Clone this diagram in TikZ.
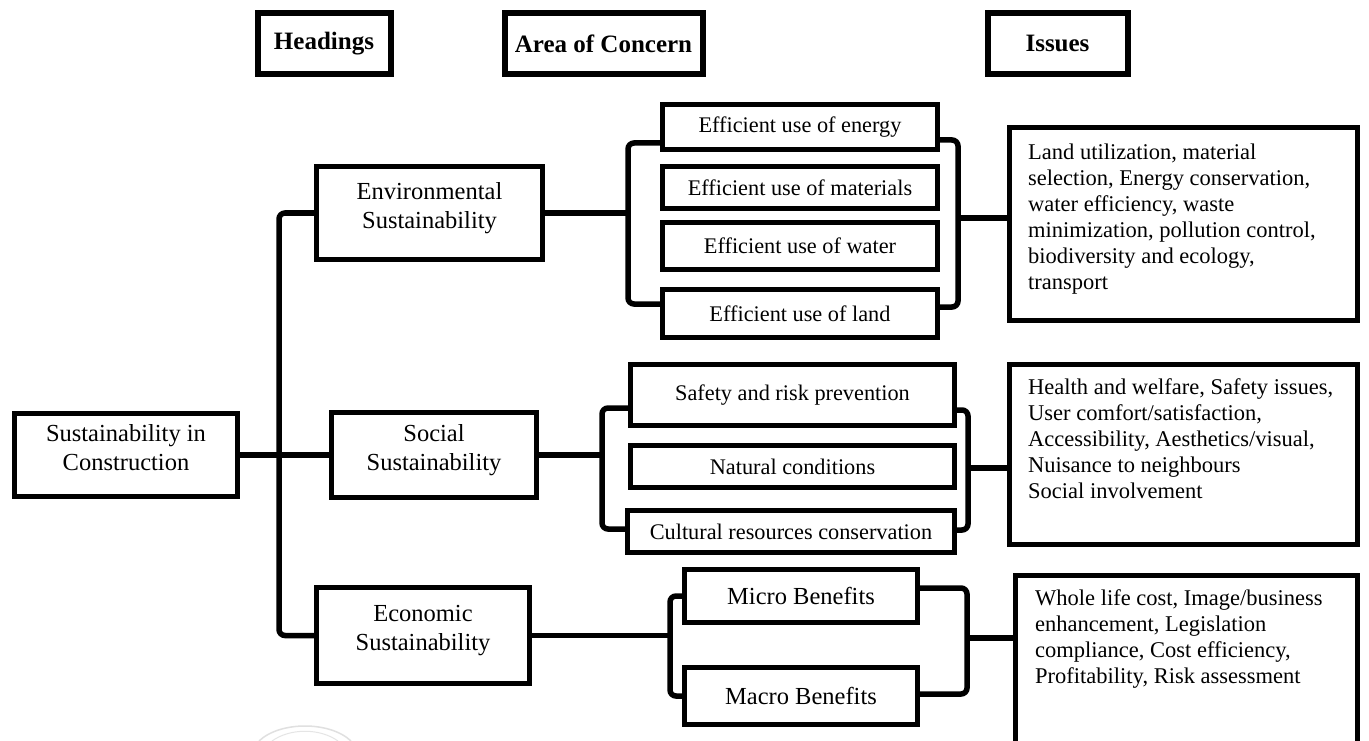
\documentclass[tikz,border=0pt]{standalone}
\usepackage{fontspec}
\setmainfont{Liberation Serif}
\usetikzlibrary{calc}
\begin{document}
\begin{tikzpicture}[x=1pt, y=-1pt,
  box/.style={draw=black, line width=5pt, inner sep=0pt, align=center},
  headbox/.style={box, line width=6pt, font=\fontsize{25}{29}\selectfont\bfseries},
  mainbox/.style={box, text depth=15pt, font=\fontsize{24.5}{28.5}\selectfont},
  areabox/.style={box, font=\fontsize{22.3}{26}\selectfont},
  benefitbox/.style={box, font=\fontsize{24.5}{28.5}\selectfont},
  issuetext/.style={inner sep=0pt, anchor=north west, align=left, font=\fontsize{22.5}{26}\selectfont},
  conn/.style={line width=5.5pt, rounded corners=6pt}]
\fill[white] (0,0) rectangle (1369,741);
\useasboundingbox (0,0) rectangle (1369,741);

% column headers
\node[headbox, minimum width=133, minimum height=61] (hHead) at (324,43.5) {Headings};
\node[headbox, minimum width=198, minimum height=61] (hArea) at (603.5,43.5) {Area of Concern};
\node[headbox, minimum width=140, minimum height=61] (hIss) at (1057.5,43.5) {Issues};

% root and headings
\node[mainbox, minimum width=223, minimum height=83] (root) at (126,455) {Sustainability in\\Construction};
\node[mainbox, minimum width=226, minimum height=93] (env) at (429.5,213) {Environmental\\Sustainability};
\node[mainbox, minimum width=205, minimum height=85] (soc) at (434,455) {Social\\Sustainability};
\node[mainbox, minimum width=213, minimum height=96] (eco) at (423,635.5) {Economic\\Sustainability};

% areas of concern: environmental
\node[areabox, minimum width=275, minimum height=45] (energy) at (800,127) {Efficient use of energy};
\node[areabox, minimum width=275, minimum height=42] (mat) at (800,187.5) {Efficient use of materials};
\node[areabox, minimum width=275, minimum height=47] (water) at (800,246) {Efficient use of water};
\node[areabox, minimum width=275, minimum height=48] (land) at (800,313.5) {Efficient use of land};

% areas of concern: social
\node[areabox, minimum width=324, minimum height=61] (safety) at (792.5,395) {Safety and risk prevention};
\node[areabox, minimum width=324, minimum height=42] (natural) at (792.5,466.5) {Natural conditions};
\node[areabox, minimum width=327, minimum height=42] (cultural) at (791,531.5) {Cultural resources conservation};

% areas of concern: economic
\node[benefitbox, minimum width=233, minimum height=53] (micro) at (801,596) {Micro Benefits};
\node[benefitbox, minimum width=233, minimum height=57] (macro) at (801,696) {Macro Benefits};

% issue boxes
\node[box, minimum width=348, minimum height=193] (iss1) at (1183.5,224) {};
\node[box, minimum width=348, minimum height=180] (iss2) at (1183.5,454.5) {};
\node[box, minimum width=342, minimum height=190] (iss3) at (1186.5,670) {};

\node[issuetext] (iss1t) at (1028,144) {Land utilization, material\\selection, Energy conservation,\\water efficiency, waste\\minimization, pollution control,\\biodiversity and ecology,\\transport};
\node[issuetext] (iss2t) at (1028,378) {Health and welfare, Safety issues,\\User comfort/satisfaction,\\Accessibility, Aesthetics/visual,\\Nuisance to neighbours\\Social involvement};
\node[issuetext] (iss3t) at (1035,589) {Whole life cost, Image/business\\enhancement, Legislation\\compliance, Cost efficiency,\\Profitability, Risk assessment};

% junction points of the brackets
\coordinate (trunk) at (279,455);
\coordinate (ebl) at (628,213);
\coordinate (ebr) at (958,218);
\coordinate (sbl) at (602,455);
\coordinate (sbr) at (968,468);
\coordinate (cbl) at (670,635.5);
\coordinate (cbr) at (967,638);

% root to headings
\draw[conn] (root.east) -- (soc.west);
\draw[conn] (env.west) -| (trunk) |- (eco.west);

% environmental branch
\draw[conn] (env.east) -- (ebl);
\draw[conn] ($(energy.south west)+(0,-9)$) -| (ebl) |- ($(land.north west)+(0,17)$);
\draw[conn] ($(energy.south east)+(0,-12)$) -| (ebr) |- ($(land.north east)+(0,20)$);
\draw[conn] (ebr) -- (ebr -| iss1.west);

% social branch
\draw[conn] (soc.east) -- (sbl);
\draw[conn] ($(safety.south west)+(0,-20)$) -| (sbl) |- ($(cultural.north west)+(0,21)$);
\draw[conn] ($(safety.south east)+(0,-18)$) -| (sbr) |- ($(cultural.north east)+(0,22)$);
\draw[conn] (sbr) -- (sbr -| iss2.west);

% economic branch
\draw[conn] (eco.east) -- (cbl);
\draw[conn] (micro.west) -| (cbl) |- (macro.west);
\draw[conn] ($(micro.east)+(0,-8)$) -| (cbr) |- ($(macro.east)+(0,-2)$);
\draw[conn] (cbr) -- (cbr -| iss3.west);

% faint seal at the lower edge
\draw[black!12, line width=1.5pt] (259,741) .. controls (280,721) and (330,721) .. (351,741);
\draw[black!10, line width=1pt] (272,741) .. controls (290,728) and (320,728) .. (338,741);
\end{tikzpicture}
\end{document}
